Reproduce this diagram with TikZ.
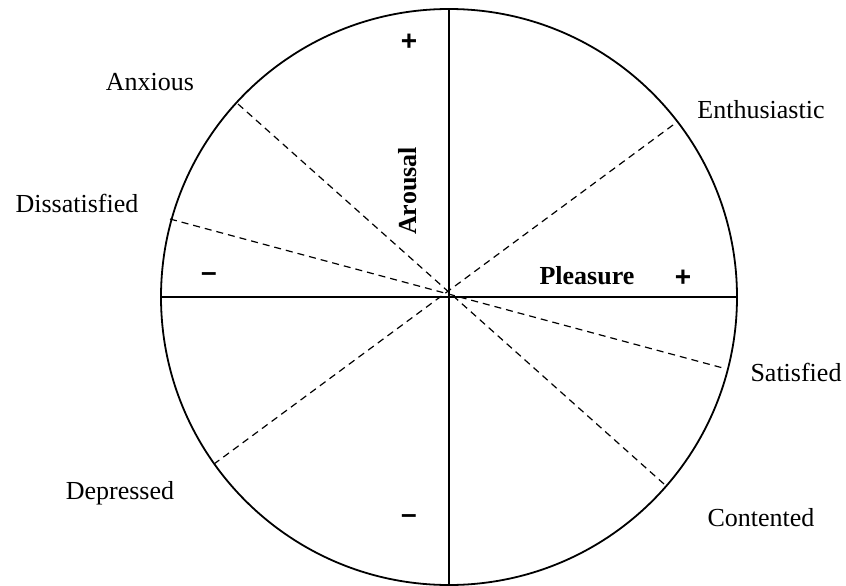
\documentclass[tikz,border=0pt]{standalone}
\usepackage{fontspec}
\setmainfont{Liberation Serif}
\newfontfamily\signfont{Liberation Sans}
\begin{document}
\begin{tikzpicture}[x=1pt,y=-1pt,
  lbl/.style={font=\fontsize{26}{30}\selectfont, inner sep=0pt},
  axlbl/.style={font=\fontsize{26}{30}\selectfont\bfseries, inner sep=0pt},
  sign/.style={font=\fontsize{28}{32}\selectfont\signfont\bfseries, inner sep=0pt},
  axis/.style={line width=1.8pt},
  dir/.style={line width=1.2pt, dash pattern=on 7pt off 5pt}]
\useasboundingbox (0,0) rectangle (846,586);
\coordinate (C) at (449,297);
\draw[line width=1.8pt] (C) circle (288);
% axes
\coordinate (T) at (449,9);
\coordinate (B) at (449,585);
\coordinate (L) at (161,297);
\coordinate (R) at (737,297);
\draw[axis] (T) -- (B);
\draw[axis] (L) -- (R);
% dashed diameters
\coordinate (an) at (238,104);
\coordinate (co) at (664,484);
\coordinate (en) at (673,125);
\coordinate (de) at (214,464);
\coordinate (di) at (170,219);
\coordinate (sa) at (723,368);
\draw[dir] (an) -- (co);
\draw[dir] (en) -- (de);
\draw[dir] (di) -- (sa);
% labels
\node[lbl] (lan) at (150,82) {Anxious};
\node[lbl] (len) at (761,110) {Enthusiastic};
\node[lbl] (ldi) at (77,203) {Dissatisfied};
\node[lbl] (lsa) at (796,372) {Satisfied};
\node[lbl] (lde) at (120,493) {Depressed};
\node[lbl] (lco) at (761,518) {Contented};
\node[axlbl] (lpl) at (587,276) {Pleasure};
\node[axlbl, rotate=90] (lar) at (408,191) {Arousal};
% signs
\node[sign] (sT) at (409,42) {+};
\node[sign] (sB) at (409,519) {\char"2013};
\node[sign] (sL) at (209,277) {\char"2013};
\node[sign] (sR) at (683,278) {+};
\end{tikzpicture}
\end{document}
